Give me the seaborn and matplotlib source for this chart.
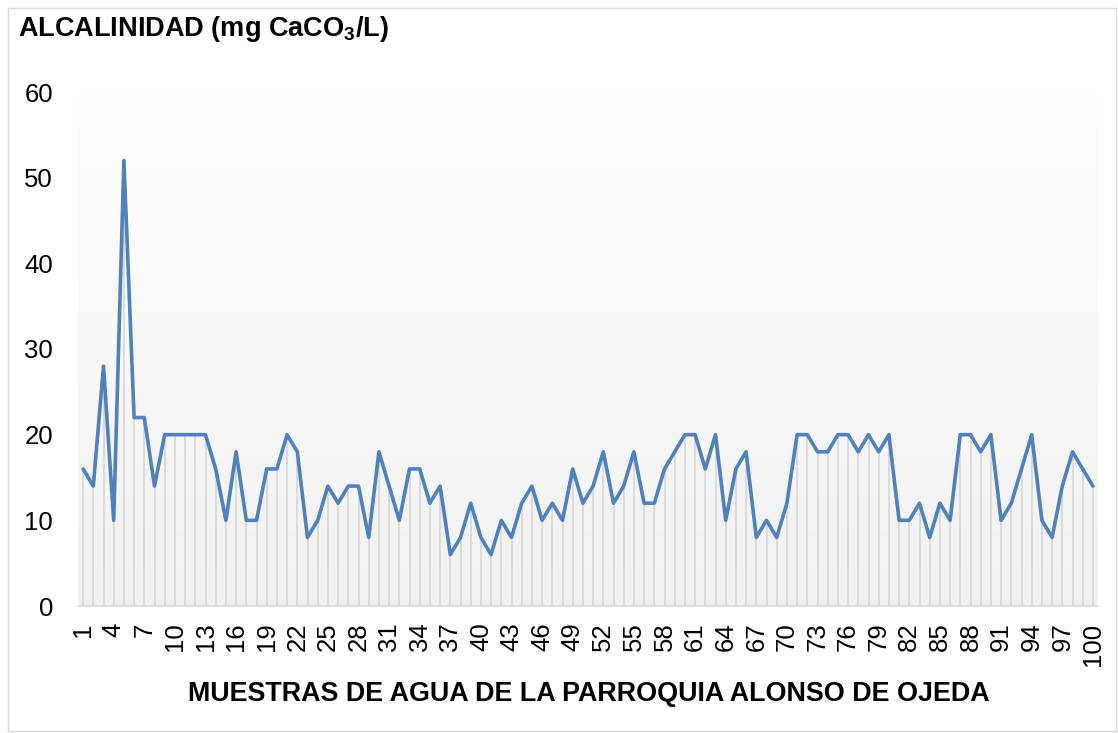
import numpy as np
import pandas as pd
import matplotlib
matplotlib.use("Agg")
import matplotlib.pyplot as plt
import seaborn as sns
from matplotlib.patches import Rectangle

samples = list(range(1, 101))
alcalinidad = [16, 14, 28, 10, 52, 22, 22, 14, 20, 20,
               20, 20, 20, 16, 10, 18, 10, 10, 16, 16,
               20, 18, 8, 10, 14, 12, 14, 14, 8, 18,
               14, 10, 16, 16, 12, 14, 6, 8, 12, 8,
               6, 10, 8, 12, 14, 10, 12, 10, 16, 12,
               14, 18, 12, 14, 18, 12, 12, 16, 18, 20,
               20, 16, 20, 10, 16, 18, 8, 10, 8, 12,
               20, 20, 18, 18, 20, 20, 18, 20, 18, 20,
               10, 10, 12, 8, 12, 10, 20, 20, 18, 20,
               10, 12, 16, 20, 10, 8, 14, 18, 16, 14]
xtick_labels = [str(i) for i in range(1, 101, 3)]
yticks = [0, 10, 20, 30, 40, 50, 60]
title = "ALCALINIDAD (mg CaCO$_\\mathbf{3}$/L)"
xlabel = "MUESTRAS DE AGUA DE LA PARROQUIA ALONSO DE OJEDA"

df = pd.DataFrame({"muestra": samples, "alcalinidad": alcalinidad})

sns.set_theme(style="white")
plt.rcParams['font.family'] = ['Liberation Sans', 'DejaVu Sans']
plt.rcParams['mathtext.fontset'] = 'custom'
plt.rcParams['mathtext.rm'] = 'Liberation Sans'
plt.rcParams['mathtext.bf'] = 'Liberation Sans:bold'
plt.rcParams['text.color'] = 'black'
plt.rcParams['xtick.color'] = 'black'
plt.rcParams['ytick.color'] = 'black'

fig = plt.figure(figsize=(11.18, 7.33), dpi=100)
ax = fig.add_axes([78/1118, 1-606/733, (1098-78)/1118, (606-92)/733])

# gradient background
grad = np.linspace(0, 1, 256).reshape(-1, 1)
cmap = matplotlib.colors.LinearSegmentedColormap.from_list("g", ["#f1f1f1", "#ffffff"])
ax.imshow(grad, aspect="auto", cmap=cmap, extent=[0.5, 100.5, 0, 60], origin="lower", zorder=0)

ax.vlines(df["muestra"], 0, df["alcalinidad"], color="#d9d9d9", lw=1.3, zorder=1)
sns.lineplot(data=df, x="muestra", y="alcalinidad", ax=ax, color="#4f81bd", lw=2.6, zorder=3)

ax.set_xlim(0.5, 100.5)
ax.set_ylim(0, 60)
ax.set_yticks(yticks)
ax.set_yticklabels([str(v) for v in yticks], fontsize=18.5)
ax.set_xticks(range(1, 101, 3))
ax.set_xticklabels(xtick_labels, rotation=90, fontsize=18.5)
ax.tick_params(axis="y", length=0, pad=18)
ax.tick_params(axis="x", length=0, pad=12)
for s in ["top", "right", "left"]:
    ax.spines[s].set_visible(False)
ax.spines["bottom"].set_color("#d9d9d9")
ax.spines["bottom"].set_linewidth(1.2)
ax.set_xlabel("")
ax.set_ylabel("")

fig.text(18/1118, 1-36/733, title, fontsize=19.5, fontweight="bold", ha="left", va="baseline")
fig.text(589/1118, 1-701/733, xlabel, fontsize=19.4, fontweight="bold", ha="center", va="baseline")

fig.patches.append(Rectangle((8/1118, 2/733), 1-10/1118, 1-10/733, transform=fig.transFigure,
                             fill=False, edgecolor="#d9d9d9", lw=1))

fig.savefig("out.png", dpi=100)
